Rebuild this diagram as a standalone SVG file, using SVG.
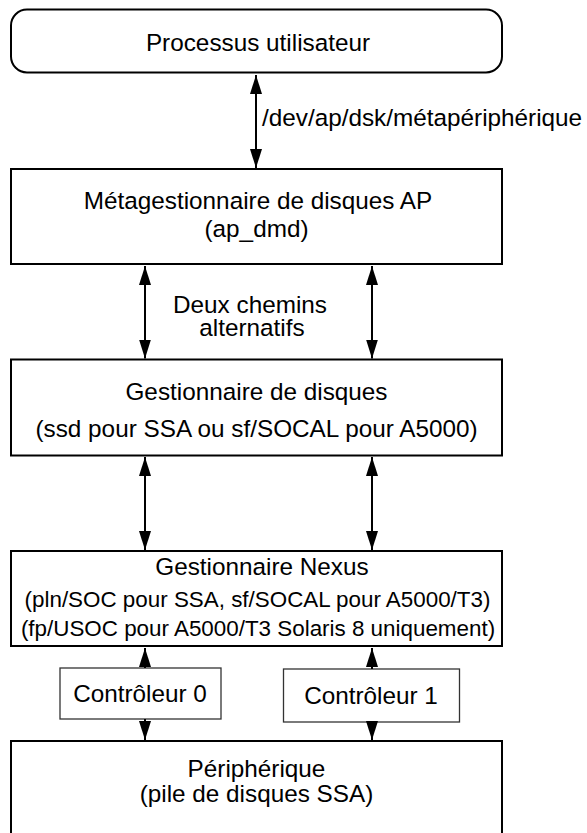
<svg xmlns="http://www.w3.org/2000/svg" width="587" height="833" viewBox="0 0 587 833">
<style>
.box{fill:#fff;stroke:#000;stroke-width:2}
.ctl{fill:#fff;stroke:#333;stroke-width:1.3}
text{font-family:"Liberation Sans",Arial,sans-serif;font-size:24.3px;fill:#000}
.c{text-anchor:middle}
.s{font-size:22.4px}
.conn line{stroke:#000;stroke-width:2}
</style>
<defs>
<marker id="ah" markerUnits="userSpaceOnUse" markerWidth="20" markerHeight="13" refX="19" refY="6" orient="auto-start-reverse">
<path d="M0,0 L19,6 L0,12 z" fill="#000"/>
</marker>
</defs>
<rect width="587" height="833" fill="#fff"/>
<g id="processus">
<rect class="box" x="11" y="9.5" width="491" height="63" rx="16" ry="16"/>
<text class="c" x="258" y="51">Processus utilisateur</text>
</g>
<g id="metagestionnaire">
<rect class="box" x="11" y="169" width="491" height="95"/>
<text class="c" x="258" y="209">Métagestionnaire de disques AP</text>
<text class="c" x="256.5" y="237">(ap_dmd)</text>
</g>
<g id="gestionnaire-disques">
<rect class="box" x="11" y="359.5" width="491" height="96"/>
<text class="c" x="256.5" y="400">Gestionnaire de disques</text>
<text class="c" x="256.5" y="437">(ssd pour SSA ou sf/SOCAL pour A5000)</text>
</g>
<g id="nexus">
<rect class="box" x="11" y="551" width="491" height="95"/>
<text class="c" x="262" y="575">Gestionnaire Nexus</text>
<text class="c s" x="257.5" y="607">(pln/SOC pour SSA, sf/SOCAL pour A5000/T3)</text>
<text class="c s" x="258" y="636">(fp/USOC pour A5000/T3 Solaris 8 uniquement)</text>
</g>
<g id="controleur0">
<rect class="ctl" x="60" y="668" width="161" height="51"/>
<text class="c" x="140" y="702">Contrôleur 0</text>
</g>
<g id="controleur1">
<rect class="ctl" x="283.5" y="669" width="176" height="53"/>
<text class="c" x="371" y="704">Contrôleur 1</text>
</g>
<g id="peripherique">
<rect class="box" x="11" y="741" width="491" height="110"/>
<text class="c" x="256.5" y="777">Périphérique</text>
<text class="c" x="256.5" y="802">(pile de disques SSA)</text>
</g>
<g id="connectors" class="conn">
<line x1="256" y1="75" x2="256" y2="168" marker-start="url(#ah)" marker-end="url(#ah)"/>
<text x="262" y="126">/dev/ap/dsk/métapériphérique</text>
<line x1="145" y1="266" x2="145" y2="358.5" marker-start="url(#ah)" marker-end="url(#ah)"/>
<line x1="372" y1="266" x2="372" y2="358.5" marker-start="url(#ah)" marker-end="url(#ah)"/>
<text class="c" x="250" y="313">Deux chemins</text>
<text class="c" x="252" y="336">alternatifs</text>
<line x1="145" y1="457" x2="145" y2="550" marker-start="url(#ah)" marker-end="url(#ah)"/>
<line x1="372" y1="457" x2="372" y2="550" marker-start="url(#ah)" marker-end="url(#ah)"/>
<line x1="145" y1="668" x2="145" y2="648" marker-end="url(#ah)"/>
<line x1="145" y1="719" x2="145" y2="740" marker-end="url(#ah)"/>
<line x1="372" y1="669" x2="372" y2="648" marker-end="url(#ah)"/>
<line x1="372" y1="722" x2="372" y2="740" marker-end="url(#ah)"/>
</g>
</svg>
